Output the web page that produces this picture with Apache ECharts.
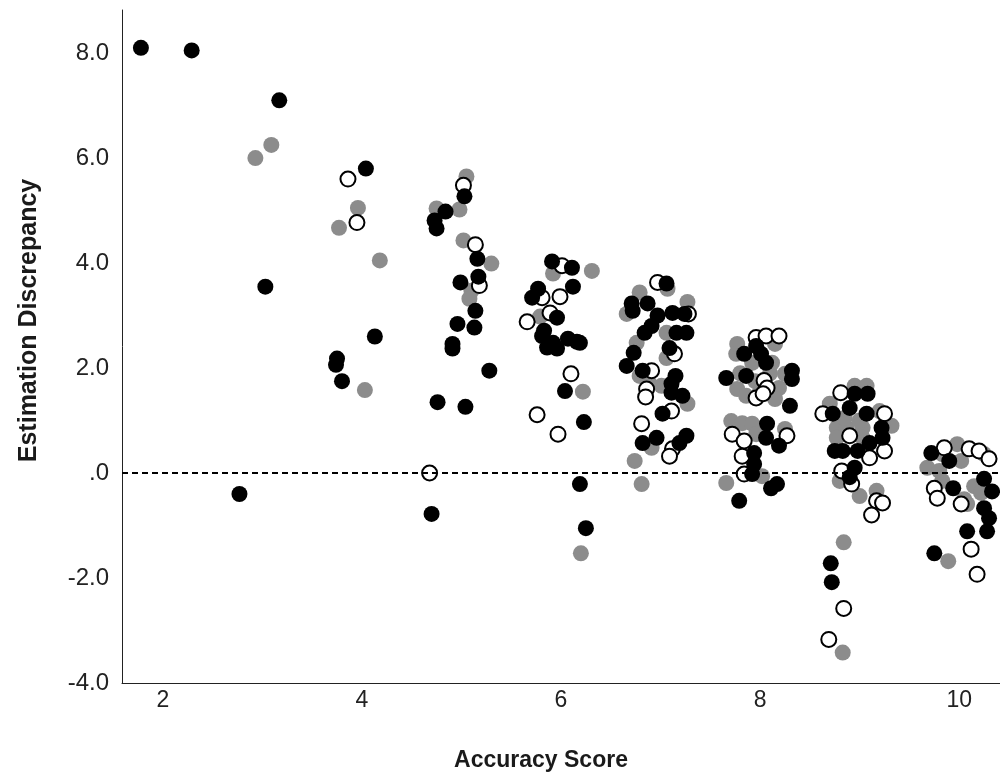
<!DOCTYPE html>
<html><head><meta charset="utf-8">
<script src="https://cdn.jsdelivr.net/npm/echarts@6/dist/echarts.min.js"></script>
<style>html,body{margin:0;padding:0;background:#fff}#c{width:1000px;height:783px}</style>
</head><body><div id="c"></div>
<script>
const xTicks = [2, 4, 6, 8, 10];
const yTicks = [-4, -2, 0, 2, 4, 6, 8];
const blackPts = [
[1.78,8.1],[2.29,8.05],[3.17,7.1],[3.03,3.55],[2.77,-0.4],
[4.04,5.8],[4.13,2.6],[3.75,2.18],[3.74,2.06],[3.80,1.75],
[5.03,5.27],[4.84,4.98],[4.73,4.81],[4.75,4.66],[5.16,4.08],[5.17,3.74],[4.99,3.63],[5.14,3.09],[4.96,2.84],[5.13,2.77],[4.91,2.46],[4.91,2.37],[5.28,1.95],[4.76,1.35],[5.04,1.26],[4.70,-0.78],
[5.91,4.03],[6.11,3.91],[6.12,3.55],[5.77,3.51],[5.71,3.34],[5.96,2.96],[5.83,2.71],[6.07,2.56],[6.16,2.50],[5.92,2.48],[5.81,2.61],[5.86,2.39],[5.96,2.37],[6.19,2.48],[6.04,1.56],[6.23,0.97],[6.19,-0.21],[6.25,-1.05],
[7.06,3.61],[6.71,3.23],[6.87,3.23],[6.72,3.09],[7.12,3.05],[7.24,3.03],[6.97,3.0],[6.91,2.8],[6.84,2.67],[7.16,2.67],[7.26,2.67],[7.09,2.38],[6.73,2.29],[6.66,2.04],[6.82,1.95],[7.15,1.85],[7.11,1.70],[7.11,1.53],[7.22,1.47],[7.02,1.13],[6.96,0.67],[6.82,0.57],[7.26,0.71],[7.19,0.57],
[7.96,2.42],[8.01,2.27],[7.84,2.27],[8.06,2.10],[7.66,1.81],[7.86,1.85],[8.32,1.95],[8.32,1.79],[8.30,1.28],[8.07,0.94],[8.06,0.67],[8.19,0.52],[7.94,0.38],[7.94,0.17],[7.92,-0.02],[8.11,-0.29],[8.17,-0.21],[7.79,-0.53],
[8.95,1.51],[9.08,1.51],[8.73,1.13],[8.90,1.24],[9.07,1.13],[9.22,0.86],[9.23,0.67],[9.10,0.57],[8.75,0.42],[8.83,0.42],[8.98,0.42],[8.95,0.10],[8.90,-0.08],[8.71,-1.72],[8.72,-2.08],
[9.72,0.38],[9.90,0.23],[10.25,-0.11],[9.94,-0.29],[10.25,-0.67],[10.30,-0.86],[10.08,-1.11],[10.28,-1.11],[9.75,-1.53],[10.33,-0.35]
];
const grayPts = [
[2.93,6.0],[3.09,6.25],[3.96,5.05],[3.77,4.67],[4.18,4.05],[4.03,1.58],
[5.05,5.65],[4.75,5.04],[4.98,5.02],[5.02,4.43],[5.30,3.99],[5.10,3.47],[5.08,3.32],
[5.92,3.80],[6.31,3.85],[5.79,2.98],[6.22,1.55],[6.20,-1.53],
[7.07,3.51],[6.79,3.44],[6.66,3.03],[7.27,3.26],[7.06,2.67],[6.76,2.48],[7.06,2.19],[6.79,1.85],[6.89,1.70],[7.01,1.66],[7.27,1.32],[6.91,0.48],[6.74,0.23],[6.81,-0.21],
[7.77,2.46],[8.15,2.46],[7.76,2.27],[8.12,2.10],[7.92,2.10],[8.25,1.89],[7.77,1.60],[7.86,1.47],[8.19,1.62],[8.15,1.41],[7.71,0.99],[7.82,0.95],[7.92,0.94],[8.25,0.84],[7.96,0.74],[8.02,-0.06],[7.66,-0.19],[7.95,1.75],[8.10,1.90],[7.80,1.90],[8.00,1.55],
[8.95,1.66],[9.07,1.66],[8.70,1.32],[9.20,1.18],[8.77,0.86],[8.87,0.86],[9.03,0.86],[9.32,0.90],[8.77,0.67],[9.03,0.67],[8.80,-0.15],[9.00,-0.44],[9.17,-0.34],[8.84,-1.32],[8.83,-3.42],[8.85,1.05],[9.00,1.00],
[9.98,0.55],[10.25,0.36],[9.83,0.36],[10.02,0.23],[9.68,0.10],[9.80,0.04],[9.83,-0.15],[10.15,-0.25],[10.22,-0.38],[10.05,-0.50],[10.08,-0.59],[9.89,-1.68]
];
const hollowPts = [
[3.86,5.6],[3.95,4.77],
[5.02,5.48],[5.14,4.35],[5.18,3.57],[4.68,0.0],
[6.01,3.95],[5.81,3.34],[5.99,3.36],[5.89,3.05],[5.66,2.88],[6.10,1.89],[5.76,1.11],[5.97,0.74],
[6.97,3.63],[7.28,3.03],[7.14,2.27],[6.91,1.95],[6.86,1.60],[6.85,1.45],[7.11,1.18],[6.81,0.94],[7.12,0.46],[7.09,0.32],
[7.96,2.58],[8.06,2.61],[8.19,2.61],[8.04,1.76],[8.07,1.62],[7.96,1.43],[8.03,1.51],[8.27,0.71],[7.72,0.74],[7.84,0.61],[7.82,0.32],[7.84,-0.02],
[8.81,1.53],[8.63,1.13],[9.25,1.13],[8.90,0.71],[9.25,0.42],[9.10,0.29],[8.82,0.04],[8.92,-0.21],[9.17,-0.53],[9.23,-0.57],[9.12,-0.80],[8.84,-2.58],[8.69,-3.17],
[9.85,0.48],[10.10,0.46],[10.20,0.42],[10.30,0.27],[9.75,-0.29],[9.78,-0.48],[10.02,-0.59],[10.12,-1.45],[10.18,-1.93]
];

const FONT = '"Liberation Sans", Arial, sans-serif';
const chart = echarts.init(document.getElementById('c'), null, {renderer: 'canvas'});
chart.setOption({
  animation: false,
  backgroundColor: '#fff',
  grid: {left: 122, right: 0, top: 10, bottom: 100, containLabel: false},
  xAxis: {
    type: 'value', min: 1.59, max: 10.41,
    name: 'Accuracy Score', nameLocation: 'middle', nameGap: 66,
    nameTextStyle: {fontFamily: FONT, fontSize: 23, fontWeight: 'bold', color: '#1a1a1a', padding: [0, 40, 0, 0]},
    axisLine: {show: true, onZero: false, lineStyle: {color: '#222', width: 1}},
    axisTick: {show: false},
    splitLine: {show: false},
    axisLabel: {customValues: xTicks, fontFamily: FONT, fontSize: 23, color: '#222', margin: 6}
  },
  yAxis: {
    type: 'value', min: -4, max: 8.82,
    name: 'Estimation Discrepancy', nameLocation: 'middle', nameGap: 80,
    nameTextStyle: {fontFamily: FONT, fontSize: 25, fontWeight: 'bold', color: '#1a1a1a', padding: [0, 0, 0, 52]},
    axisLine: {show: true, onZero: false, lineStyle: {color: '#222', width: 1}},
    axisTick: {show: false},
    splitLine: {show: false},
    axisLabel: {
      customValues: yTicks, fontFamily: FONT, fontSize: 24, color: '#222', margin: 13,
      formatter: v => v === 0 ? '.0' : v.toFixed(1)
    }
  },
  series: [
    {
      type: 'scatter', name: 'gray', data: grayPts, symbolSize: 16,
      itemStyle: {color: '#8c8c8c', opacity: 1},
      markLine: {
        silent: true, symbol: 'none', label: {show: false},
        lineStyle: {color: '#000', width: 2, type: [6, 4]},
        data: [{yAxis: 0}]
      }
    },
    {
      type: 'scatter', name: 'hollow', data: hollowPts, symbolSize: 15,
      itemStyle: {color: '#fff', borderColor: '#000', borderWidth: 2, opacity: 1}
    },
    {
      type: 'scatter', name: 'black', data: blackPts, symbolSize: 16,
      itemStyle: {color: '#000', opacity: 1}
    }
  ]
});
</script>
</body></html>
